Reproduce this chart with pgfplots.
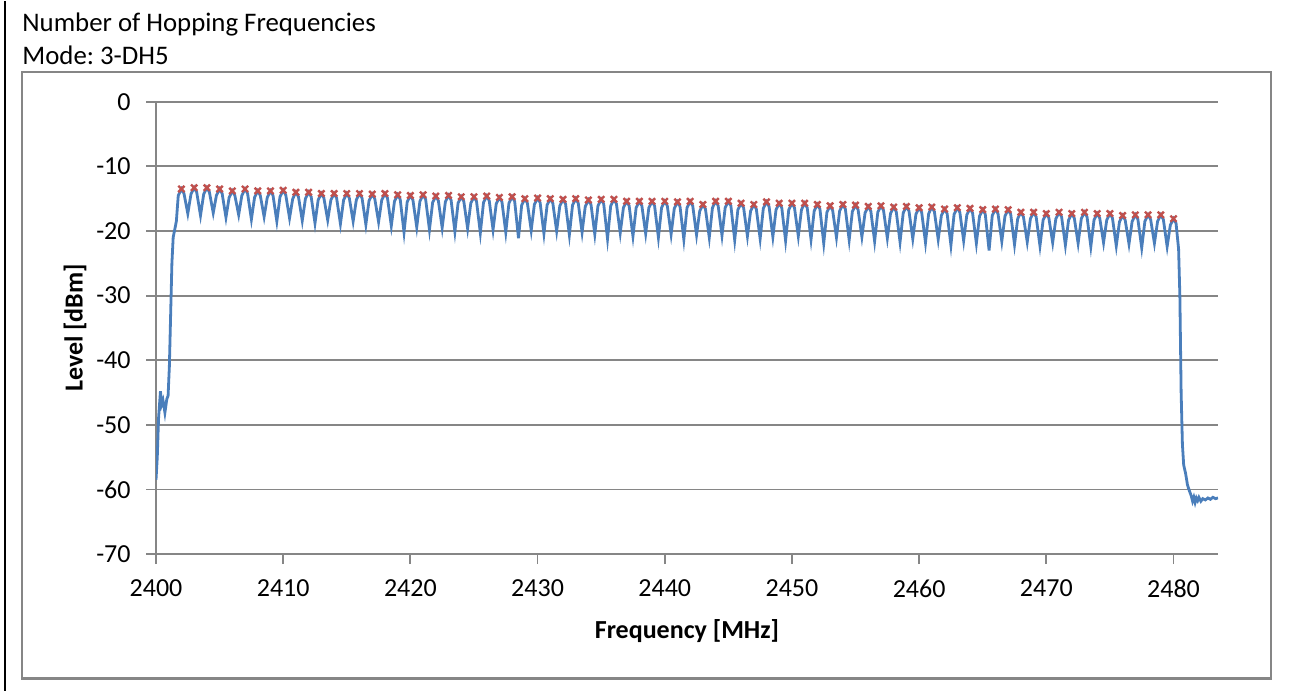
\documentclass[border=0pt]{standalone}
\usepackage{fontspec}
\setmainfont{Carlito}
\usepackage{pgfplots}
\pgfplotsset{compat=1.18}
\definecolor{trace}{RGB}{74,126,187}
\definecolor{peak}{RGB}{192,80,77}
\definecolor{gridgray}{RGB}{134,134,134}

\begin{document}
\begin{tikzpicture}[x=0.5bp,y=-0.5bp]
\path (0,0) rectangle (1306,695);
\draw[black, line width=1.2bp] (5,0) -- (5,690);
\draw[gridgray, line width=1.3bp] (22,71) rectangle (1271,677);
\node[anchor=base west, inner sep=0pt, font=\fontsize{13.4bp}{15bp}\selectfont] at (22,30) {Number of Hopping Frequencies};
\node[anchor=base west, inner sep=0pt, font=\fontsize{13.4bp}{15bp}\selectfont] at (22,63) {Mode:\ 3-DH5};
\begin{axis}[
  at={(78bp,-276.5bp)}, anchor=south west,
  scale only axis, width=531bp, height=226.25bp,
  xmin=2400, xmax=2483.5, ymin=-70, ymax=0,
  xtick={2400,2410,...,2480}, ytick={-70,-60,...,0},
  axis x line*=bottom, axis y line*=left,
  axis line style={gridgray, line width=0.9bp},
  ymajorgrids, grid style={gridgray, line width=0.9bp},
  tick align=outside, major tick length=5bp,
  tick style={gridgray, line width=0.9bp},
  /pgf/number format/1000 sep={},
  /pgf/number format/assume math mode=true,
  tick label style={font=\fontsize{13bp}{15bp}\selectfont, inner sep=0pt},
  xticklabel style={anchor=north, yshift=-7.5bp},
  yticklabel style={anchor=east, xshift=-7.5bp},
  xlabel={\bfseries Frequency [MHz]},
  ylabel={\bfseries Level [dBm]},
  label style={font=\fontsize{13bp}{15bp}\selectfont},
  xlabel style={at={(axis description cs:0.5,-0.1856)}, anchor=base, inner sep=0pt},
  ylabel style={at={(axis description cs:-0.0690,0.5)}, anchor=base, inner sep=0pt},
]
\addplot[trace, line width=1.4bp, no marks] coordinates {
(2400,-58.5)(2400.1,-55)(2400.2,-49)(2400.35,-44.8)(2400.45,-46.8)(2400.55,-46.2)(2400.7,-48.1)(2400.85,-46)(2400.95,-45.5)
(2401.05,-41)(2401.15,-33)(2401.25,-25)(2401.35,-21)(2401.5,-19.5)(2401.6,-18.5)
(2401.75,-14.5)(2402,-13.5)(2402.2,-14.2)(2402.5,-17.3)
(2402.75,-14.3)(2403,-13.3)(2403.2,-14.0)(2403.5,-17.6)
(2403.75,-14.3)(2404,-13.3)(2404.2,-14.0)(2404.5,-17.2)
(2404.75,-14.5)(2405,-13.5)(2405.2,-14.2)(2405.5,-17.9)
(2405.75,-14.8)(2406,-13.8)(2406.2,-14.5)(2406.5,-17.5)
(2406.75,-14.5)(2407,-13.5)(2407.2,-14.2)(2407.5,-18.2)
(2407.75,-14.8)(2408,-13.8)(2408.2,-14.5)(2408.5,-17.8)
(2408.75,-14.8)(2409,-13.8)(2409.2,-14.5)(2409.5,-18.5)
(2409.75,-14.7)(2410,-13.7)(2410.2,-14.4)(2410.5,-18.0)
(2410.75,-15.0)(2411,-14.0)(2411.2,-14.7)(2411.5,-18.4)
(2411.75,-15.0)(2412,-14.0)(2412.2,-14.7)(2412.5,-18.8)
(2412.75,-15.2)(2413,-14.2)(2413.2,-14.9)(2413.5,-18.3)
(2413.75,-15.2)(2414,-14.2)(2414.2,-14.9)(2414.5,-18.9)
(2414.75,-15.2)(2415,-14.2)(2415.2,-14.9)(2415.5,-18.5)
(2415.75,-15.2)(2416,-14.2)(2416.2,-14.9)(2416.5,-19.0)
(2416.75,-15.3)(2417,-14.3)(2417.2,-15.0)(2417.5,-18.6)
(2417.75,-15.2)(2418,-14.2)(2418.2,-14.9)(2418.5,-19.2)
(2418.75,-15.4)(2419,-14.4)(2419.2,-15.1)(2419.5,-20.2)
(2419.75,-15.5)(2420,-14.5)(2420.2,-15.2)(2420.5,-19.4)
(2420.75,-15.4)(2421,-14.4)(2421.2,-15.1)(2421.5,-19.8)
(2421.75,-15.6)(2422,-14.6)(2422.2,-15.3)(2422.5,-19.5)
(2422.75,-15.5)(2423,-14.5)(2423.2,-15.2)(2423.5,-20.1)
(2423.75,-15.7)(2424,-14.7)(2424.2,-15.4)(2424.5,-19.6)
(2424.75,-15.7)(2425,-14.7)(2425.2,-15.4)(2425.5,-20.3)
(2425.75,-15.6)(2426,-14.6)(2426.2,-15.3)(2426.5,-19.8)
(2426.75,-15.8)(2427,-14.8)(2427.2,-15.5)(2427.5,-20.2)
(2427.75,-15.7)(2428,-14.7)(2428.2,-15.4)(2428.5,-21.1)
(2428.75,-16.0)(2429,-15.0)(2429.2,-15.7)(2429.5,-19.9)
(2429.75,-15.9)(2430,-14.9)(2430.2,-15.6)(2430.5,-20.4)
(2430.75,-16.0)(2431,-15.0)(2431.2,-15.7)(2431.5,-20.0)
(2431.75,-16.1)(2432,-15.1)(2432.2,-15.8)(2432.5,-20.6)
(2432.75,-16.0)(2433,-15.0)(2433.2,-15.7)(2433.5,-20.2)
(2433.75,-16.2)(2434,-15.2)(2434.2,-15.9)(2434.5,-20.5)
(2434.75,-16.1)(2435,-15.1)(2435.2,-15.8)(2435.5,-21.2)
(2435.75,-16.1)(2436,-15.1)(2436.2,-15.8)(2436.5,-20.3)
(2436.75,-16.4)(2437,-15.4)(2437.2,-16.1)(2437.5,-20.8)
(2437.75,-16.4)(2438,-15.4)(2438.2,-16.1)(2438.5,-20.4)
(2438.75,-16.4)(2439,-15.4)(2439.2,-16.1)(2439.5,-21.0)
(2439.75,-16.4)(2440,-15.4)(2440.2,-16.1)(2440.5,-20.5)
(2440.75,-16.5)(2441,-15.5)(2441.2,-16.2)(2441.5,-21.3)
(2441.75,-16.4)(2442,-15.4)(2442.2,-16.1)(2442.5,-20.6)
(2442.75,-16.9)(2443,-15.9)(2443.2,-16.6)(2443.5,-21.0)
(2443.75,-16.4)(2444,-15.4)(2444.2,-16.1)(2444.5,-20.7)
(2444.75,-16.4)(2445,-15.4)(2445.2,-16.1)(2445.5,-21.4)
(2445.75,-16.7)(2446,-15.7)(2446.2,-16.4)(2446.5,-20.8)
(2446.75,-16.9)(2447,-15.9)(2447.2,-16.6)(2447.5,-21.2)
(2447.75,-16.5)(2448,-15.5)(2448.2,-16.2)(2448.5,-20.9)
(2448.75,-16.7)(2449,-15.7)(2449.2,-16.4)(2449.5,-21.5)
(2449.75,-16.7)(2450,-15.7)(2450.2,-16.4)(2450.5,-20.8)
(2450.75,-16.7)(2451,-15.7)(2451.2,-16.4)(2451.5,-21.3)
(2451.75,-16.9)(2452,-15.9)(2452.2,-16.6)(2452.5,-21.9)
(2452.75,-17.1)(2453,-16.1)(2453.2,-16.8)(2453.5,-21.0)
(2453.75,-16.9)(2454,-15.9)(2454.2,-16.6)(2454.5,-21.4)
(2454.75,-17.0)(2455,-16.0)(2455.2,-16.7)(2455.5,-20.9)
(2455.75,-17.2)(2456,-16.2)(2456.2,-16.9)(2456.5,-21.6)
(2456.75,-17.1)(2457,-16.1)(2457.2,-16.8)(2457.5,-21.1)
(2457.75,-17.3)(2458,-16.3)(2458.2,-17.0)(2458.5,-21.7)
(2458.75,-17.2)(2459,-16.2)(2459.2,-16.9)(2459.5,-21.2)
(2459.75,-17.4)(2460,-16.4)(2460.2,-17.1)(2460.5,-21.8)
(2460.75,-17.3)(2461,-16.3)(2461.2,-17.0)(2461.5,-21.3)
(2461.75,-17.6)(2462,-16.6)(2462.2,-17.3)(2462.5,-22.2)
(2462.75,-17.4)(2463,-16.4)(2463.2,-17.1)(2463.5,-21.5)
(2463.75,-17.5)(2464,-16.5)(2464.2,-17.2)(2464.5,-21.9)
(2464.75,-17.7)(2465,-16.7)(2465.2,-17.4)(2465.5,-23.0)
(2465.75,-17.6)(2466,-16.6)(2466.2,-17.3)(2466.5,-21.6)
(2466.75,-17.7)(2467,-16.7)(2467.2,-17.4)(2467.5,-22.1)
(2467.75,-18.1)(2468,-17.1)(2468.2,-17.8)(2468.5,-21.7)
(2468.75,-18.1)(2469,-17.1)(2469.2,-17.8)(2469.5,-22.3)
(2469.75,-18.3)(2470,-17.3)(2470.2,-18.0)(2470.5,-21.8)
(2470.75,-18.1)(2471,-17.1)(2471.2,-17.8)(2471.5,-22.2)
(2471.75,-18.3)(2472,-17.3)(2472.2,-18.0)(2472.5,-21.9)
(2472.75,-18.1)(2473,-17.1)(2473.2,-17.8)(2473.5,-22.4)
(2473.75,-18.3)(2474,-17.3)(2474.2,-18.0)(2474.5,-21.8)
(2474.75,-18.3)(2475,-17.3)(2475.2,-18.0)(2475.5,-22.3)
(2475.75,-18.6)(2476,-17.6)(2476.2,-18.3)(2476.5,-22.0)
(2476.75,-18.5)(2477,-17.5)(2477.2,-18.2)(2477.5,-22.6)
(2477.75,-18.5)(2478,-17.5)(2478.2,-18.2)(2478.5,-21.9)
(2478.75,-18.5)(2479,-17.5)(2479.2,-18.2)(2479.5,-22.4)
(2479.75,-19.1)(2480,-18.1)(2480.2,-18.8)(2480.4,-22.8)
(2480.5,-30)(2480.6,-45)(2480.7,-53)(2480.8,-56.2)(2480.95,-57.5)(2481.1,-59.3)(2481.25,-60.2)
(2481.4,-61.0)(2481.5,-61.8)(2481.6,-61.2)(2481.7,-62.0)(2481.8,-61.3)(2481.9,-61.7)(2482.0,-61.2)
(2482.15,-61.8)(2482.3,-61.4)(2482.5,-61.6)(2482.7,-61.3)(2482.9,-61.5)(2483.1,-61.2)(2483.3,-61.4)(2483.5,-61.3)
};
\addplot[only marks, mark=x, mark size=2.2bp, peak, mark options={line width=1.2bp}] coordinates {
(2402,-13.5)(2403,-13.3)(2404,-13.3)(2405,-13.5)(2406,-13.8)(2407,-13.5)(2408,-13.8)(2409,-13.8)(2410,-13.7)(2411,-14.0)
(2412,-14.0)(2413,-14.2)(2414,-14.2)(2415,-14.2)(2416,-14.2)(2417,-14.3)(2418,-14.2)(2419,-14.4)(2420,-14.5)(2421,-14.4)
(2422,-14.6)(2423,-14.5)(2424,-14.7)(2425,-14.7)(2426,-14.6)(2427,-14.8)(2428,-14.7)(2429,-15.0)(2430,-14.9)(2431,-15.0)
(2432,-15.1)(2433,-15.0)(2434,-15.2)(2435,-15.1)(2436,-15.1)(2437,-15.4)(2438,-15.4)(2439,-15.4)(2440,-15.4)(2441,-15.5)
(2442,-15.4)(2443,-15.9)(2444,-15.4)(2445,-15.4)(2446,-15.7)(2447,-15.9)(2448,-15.5)(2449,-15.7)(2450,-15.7)(2451,-15.7)
(2452,-15.9)(2453,-16.1)(2454,-15.9)(2455,-16.0)(2456,-16.2)(2457,-16.1)(2458,-16.3)(2459,-16.2)(2460,-16.4)(2461,-16.3)
(2462,-16.6)(2463,-16.4)(2464,-16.5)(2465,-16.7)(2466,-16.6)(2467,-16.7)(2468,-17.1)(2469,-17.1)(2470,-17.3)(2471,-17.1)
(2472,-17.3)(2473,-17.1)(2474,-17.3)(2475,-17.3)(2476,-17.6)(2477,-17.5)(2478,-17.5)(2479,-17.5)(2480,-18.1)
};
\end{axis}
\end{tikzpicture}
\end{document}
